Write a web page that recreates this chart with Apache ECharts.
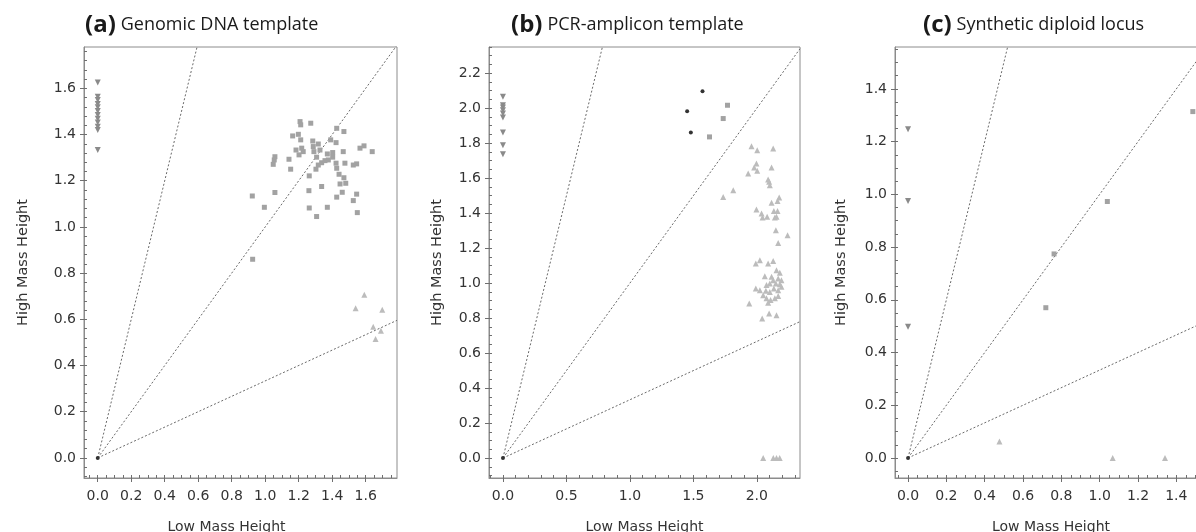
<!DOCTYPE html>
<html>
<head>
<meta charset="utf-8">
<script src="https://cdn.jsdelivr.net/npm/echarts@6/dist/echarts.min.js"></script>
<style>
  html, body { margin: 0; padding: 0; background: #fff; }
  #chart { width: 1196px; height: 532px; }
</style>
</head>
<body>
<div id="chart"></div>
<script>
// ---- Panel labels ----
const panelTags = ['(a)', '(b)', '(c)'];
const panelNames = ['Genomic DNA template', 'PCR-amplicon template', 'Synthetic diploid locus'];
const xAxisName = 'Low Mass Height';
const yAxisName = 'High Mass Height';

// ---- Axis extents [min, max] ----
const xRangeA = [-0.082, 1.787];
const yRangeA = [-0.087, 1.779];
const xRangeB = [-0.11, 2.34];
const yRangeB = [-0.114, 2.35];
const xRangeC = [-0.068, 1.56];
const yRangeC = [-0.076, 1.559];

// ---- Tick labels ----
const xTicksA = [0.0, 0.2, 0.4, 0.6, 0.8, 1.0, 1.2, 1.4, 1.6];
const yTicksA = [0.0, 0.2, 0.4, 0.6, 0.8, 1.0, 1.2, 1.4, 1.6];
const xTicksB = [0.0, 0.5, 1.0, 1.5, 2.0];
const yTicksB = [0.0, 0.2, 0.4, 0.6, 0.8, 1.0, 1.2, 1.4, 1.6, 1.8, 2.0, 2.2];
const xTicksC = [0.0, 0.2, 0.4, 0.6, 0.8, 1.0, 1.2, 1.4];
const yTicksC = [0.0, 0.2, 0.4, 0.6, 0.8, 1.0, 1.2, 1.4];

// Minor tick spacing (x, y) for each panel
const minorStepA = [0.05, 0.04];
const minorStepB = [0.1, 0.05];
const minorStepC = [0.05, 0.05];

// Ratio guide lines through the origin (high/low = 3, 1, 1/3)
const guideSlopes = [3, 1, 1 / 3];

// ---- (a) Genomic DNA template ----
const aNoTemplate = [[0, 0]];
const aHighHomo = [
  [0, 1.625], [0, 1.564], [0, 1.550], [0, 1.532], [0, 1.518], [0, 1.502],
  [0, 1.485], [0, 1.468], [0, 1.452], [0, 1.434], [0, 1.420], [0, 1.333]
];
const aHetero = [
  [0.923, 1.134], [0.995, 1.085], [1.058, 1.149], [1.048, 1.271], [1.054, 1.290],
  [1.058, 1.304], [1.142, 1.293], [1.152, 1.250], [1.164, 1.394], [1.198, 1.401],
  [1.212, 1.377], [1.208, 1.456], [1.212, 1.442], [1.272, 1.449], [1.184, 1.333],
  [1.202, 1.312], [1.227, 1.326], [1.218, 1.341], [1.284, 1.372], [1.287, 1.348],
  [1.291, 1.326], [1.317, 1.359], [1.307, 1.302], [1.327, 1.333], [1.263, 1.221],
  [1.261, 1.157], [1.263, 1.082], [1.307, 1.045], [1.337, 1.175], [1.371, 1.085],
  [1.303, 1.250], [1.317, 1.268], [1.337, 1.278], [1.357, 1.287], [1.377, 1.290],
  [1.371, 1.316], [1.391, 1.377], [1.403, 1.302], [1.423, 1.365], [1.427, 1.427],
  [1.470, 1.413], [1.403, 1.322], [1.423, 1.276], [1.427, 1.254], [1.466, 1.326],
  [1.476, 1.276], [1.441, 1.228], [1.470, 1.213], [1.447, 1.186], [1.481, 1.189],
  [1.460, 1.150], [1.427, 1.129], [1.526, 1.268], [1.546, 1.273], [1.566, 1.341],
  [1.590, 1.351], [1.639, 1.326], [1.546, 1.142], [1.526, 1.114], [1.550, 1.062],
  [0.925, 0.860]
];
const aLowHomo = [
  [1.540, 0.648], [1.592, 0.706], [1.699, 0.641], [1.645, 0.568], [1.691, 0.551], [1.659, 0.515]
];

// ---- (b) PCR-amplicon template ----
const bNoTemplate = [[0, 0], [1.451, 1.983], [1.572, 2.097], [1.480, 1.861]];
const bHighHomo = [
  [0, 2.065], [0, 2.017], [0, 2.004], [0, 1.989], [0, 1.970], [0, 1.947],
  [0, 1.861], [0, 1.789], [0, 1.737]
];
const bHetero = [[1.769, 2.017], [1.735, 1.941], [1.627, 1.836]];
const bLowHomo = [
  [1.958, 1.783], [2.003, 1.760], [2.129, 1.770], [1.997, 1.684], [1.979, 1.661],
  [2.003, 1.642], [1.932, 1.627], [2.116, 1.661], [2.089, 1.593], [2.097, 1.579],
  [2.102, 1.560], [1.814, 1.531], [1.735, 1.493], [2.176, 1.490], [2.163, 1.470],
  [2.116, 1.459], [1.997, 1.421], [2.037, 1.398], [2.045, 1.375], [2.081, 1.379],
  [2.134, 1.413], [2.163, 1.413], [2.142, 1.375], [2.155, 1.379], [2.150, 1.303],
  [2.242, 1.274], [2.168, 1.230], [1.992, 1.112], [2.024, 1.131], [2.089, 1.112],
  [2.129, 1.127], [2.155, 1.074], [2.181, 1.059], [2.194, 1.017], [2.168, 1.027],
  [2.150, 0.998], [2.129, 1.017], [2.102, 0.998], [2.076, 0.989], [2.063, 1.040],
  [2.116, 1.036], [2.134, 0.970], [2.168, 0.960], [2.102, 0.950], [2.071, 0.956],
  [2.024, 0.960], [1.992, 0.970], [2.050, 0.931], [2.076, 0.913], [2.108, 0.903],
  [2.142, 0.913], [2.168, 0.926], [2.089, 0.888], [1.940, 0.884], [2.042, 0.798],
  [2.097, 0.827], [2.155, 0.817], [2.194, 0.979], [2.181, 0.994],
  [2.050, 0.0], [2.130, 0.0], [2.155, 0.0], [2.180, 0.0]
];

// ---- (c) Synthetic diploid locus ----
const cNoTemplate = [[0, 0]];
const cHighHomo = [[0, 1.247], [0, 0.975], [0, 0.498]];
const cHetero = [[1.486, 1.314], [1.040, 0.973], [0.762, 0.774], [0.719, 0.570]];
const cLowHomo = [[0.477, 0.062], [1.068, 0.0], [1.341, 0.0]];

// ---- Layout of the three plot boxes (px) ----
const boxes = [
  { left: 84, top: 47, width: 313, height: 431, yNameGap: 53, titleLeft: 80, xNameShift: 28 },
  { left: 489, top: 47, width: 311, height: 431, yNameGap: 44, titleLeft: 506, xNameShift: 0 },
  { left: 895, top: 47, width: 312, height: 431, yNameGap: 46, titleLeft: 918, xNameShift: 0 }
];

const panels = [
  { xr: xRangeA, yr: yRangeA, xt: xTicksA, yt: yTicksA, ms: minorStepA,
    nt: aNoTemplate, hh: aHighHomo, he: aHetero, lh: aLowHomo },
  { xr: xRangeB, yr: yRangeB, xt: xTicksB, yt: yTicksB, ms: minorStepB,
    nt: bNoTemplate, hh: bHighHomo, he: bHetero, lh: bLowHomo },
  { xr: xRangeC, yr: yRangeC, xt: xTicksC, yt: yTicksC, ms: minorStepC,
    nt: cNoTemplate, hh: cHighHomo, he: cHetero, lh: cLowHomo }
];

function minorValues(range, step) {
  const out = [];
  const start = Math.ceil(range[0] / step - 1e-9);
  for (let k = start; k * step <= range[1] + 1e-9; k++) {
    out.push(+(k * step).toFixed(4));
  }
  return out;
}

const FRAME = '#8c8c8c';
const TICK = '#6f6f6f';
const LABEL_FONT = 'DejaVu Sans';

const grid = [], xAxis = [], yAxis = [], series = [], title = [];

panels.forEach((p, i) => {
  const b = boxes[i];
  grid.push({
    left: b.left, top: b.top, width: b.width, height: b.height,
    outerBoundsMode: 'none', containLabel: false,
    show: true, borderColor: FRAME, borderWidth: 1, backgroundColor: 'transparent'
  });

  title.push({
    left: b.titleLeft,
    top: 8,
    text: '{tag|' + panelTags[i] + '} {name|' + panelNames[i] + '}',
    textStyle: {
      fontWeight: 'normal',
      rich: {
        tag: { fontFamily: 'Open Sans', fontWeight: 'bold', fontSize: 24, color: '#1a1a1a' },
        name: { fontFamily: 'Open Sans', fontWeight: 'normal', fontSize: 18, color: '#1a1a1a' }
      }
    }
  });

  // main axes: frame line, major ticks, labels, names
  const xMain = xAxis.length;
  xAxis.push({
    type: 'value', gridIndex: i, position: 'bottom',
    min: p.xr[0], max: p.xr[1],
    name: xAxisName, nameLocation: 'middle', nameGap: 42,
    nameTextStyle: { fontFamily: LABEL_FONT, fontSize: 14, color: '#333',
                     padding: [0, b.xNameShift, 0, 0] },
    axisLine: { onZero: false, lineStyle: { color: FRAME, width: 1 } },
    axisTick: { show: true, customValues: p.xt, length: 4, lineStyle: { color: TICK } },
    axisLabel: {
      customValues: p.xt, margin: 11, fontFamily: LABEL_FONT, fontSize: 14, color: '#333',
      formatter: v => v.toFixed(1)
    },
    splitLine: { show: false }
  });
  // minor ticks, drawn inside the box
  xAxis.push({
    type: 'value', gridIndex: i, position: 'bottom',
    min: p.xr[0], max: p.xr[1],
    axisLine: { show: false, onZero: false },
    axisTick: { show: true, inside: true, customValues: minorValues(p.xr, p.ms[0]), length: 3,
                lineStyle: { color: TICK } },
    axisLabel: { show: false },
    splitLine: { show: false }
  });

  const yMain = yAxis.length;
  yAxis.push({
    type: 'value', gridIndex: i, position: 'left',
    min: p.yr[0], max: p.yr[1],
    name: yAxisName, nameLocation: 'middle', nameGap: b.yNameGap,
    nameTextStyle: { fontFamily: LABEL_FONT, fontSize: 14.5, color: '#333' },
    axisLine: { onZero: false, lineStyle: { color: FRAME, width: 1 } },
    axisTick: { show: true, customValues: p.yt, length: 4, lineStyle: { color: TICK } },
    axisLabel: {
      customValues: p.yt, margin: 8, fontFamily: LABEL_FONT, fontSize: 14, color: '#333',
      formatter: v => v.toFixed(1)
    },
    splitLine: { show: false }
  });
  yAxis.push({
    type: 'value', gridIndex: i, position: 'left',
    min: p.yr[0], max: p.yr[1],
    axisLine: { show: false, onZero: false },
    axisTick: { show: true, inside: true, customValues: minorValues(p.yr, p.ms[1]), length: 3,
                lineStyle: { color: TICK } },
    axisLabel: { show: false },
    splitLine: { show: false }
  });

  // dotted ratio guides from the origin
  guideSlopes.forEach(s => {
    const xe = p.xr[1];
    series.push({
      type: 'line', xAxisIndex: xMain, yAxisIndex: yMain,
      data: [[0, 0], [xe, s * xe]],
      showSymbol: false, symbol: 'none', silent: true, clip: true, z: 1,
      lineStyle: { color: '#6a6a6a', width: 1, type: [2, 2] }
    });
  });

  const sc = (data, symbol, size, color, rotate) => ({
    type: 'scatter', xAxisIndex: xMain, yAxisIndex: yMain, data,
    symbol, symbolSize: size, symbolRotate: rotate || 0, silent: true, z: 3,
    itemStyle: { color, opacity: 1 }
  });
  series.push(sc(p.he, 'rect', 5, '#a2a2a2'));
  series.push(sc(p.lh, 'triangle', 6, '#bcbcbc'));
  series.push(sc(p.hh, 'triangle', 6, '#8a8a8a', 180));
  series.push(sc(p.nt, 'circle', 4, '#333333'));
});

const chart = echarts.init(document.getElementById('chart'), null, { renderer: 'canvas' });
chart.setOption({
  animation: false,
  backgroundColor: '#ffffff',
  title, grid, xAxis, yAxis, series
});
</script>
</body>
</html>
